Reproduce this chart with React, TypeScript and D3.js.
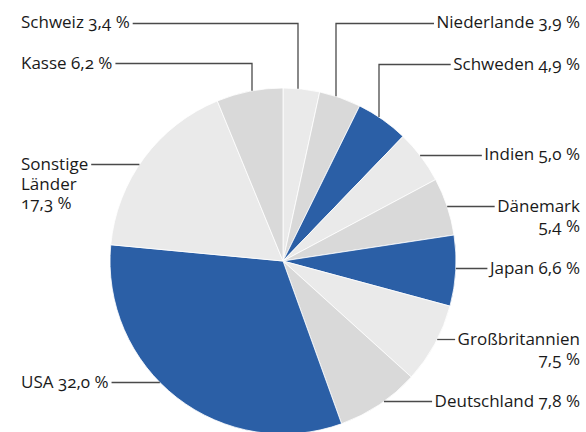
import React, { useEffect, useRef } from "react";
import * as d3 from "d3";

const countries = ["Schweiz", "Niederlande", "Schweden", "Indien", "Dänemark", "Japan", "Großbritannien", "Deutschland", "USA", "Sonstige Länder", "Kasse"];
const shares = [3.4, 3.9, 4.9, 5.0, 5.4, 6.6, 7.5, 7.8, 32.0, 17.3, 6.2];
const tones = ["light", "gray", "blue", "light", "gray", "blue", "light", "gray", "blue", "light", "gray"];
const labelLines = [
  ["Schweiz 3,4 %"],
  ["Niederlande 3,9 %"],
  ["Schweden 4,9 %"],
  ["Indien 5,0 %"],
  ["Dänemark", "5,4 %"],
  ["Japan 6,6 %"],
  ["Großbritannien", "7,5 %"],
  ["Deutschland 7,8 %"],
  ["USA 32,0 %"],
  ["Sonstige", "Länder", "17,3 %"],
  ["Kasse 6,2 %"],
];

const W = 586, H = 432;
const CX = 283, CY = 261, R = 173;
const LEFT_X = 21, RIGHT_X = 580, LH = 19.5;
const palette: Record<string, string> = { light: "#eaeaea", gray: "#d9d9d9", blue: "#2b5fa6" };

// layout: side, first baseline, leader y, optional elbow x
const layout = [
  { side: "L", base: 28, ly: 23.5, elbow: 298 },
  { side: "R", base: 28, ly: 23.5, elbow: 336 },
  { side: "R", base: 70, ly: 64.5, elbow: 379 },
  { side: "R", base: 160, ly: 155.5 },
  { side: "R", base: 212, ly: 206.5 },
  { side: "R", base: 274, ly: 268.5 },
  { side: "R", base: 345, ly: 339.5 },
  { side: "R", base: 407, ly: 401.5 },
  { side: "L", base: 388, ly: 382.5 },
  { side: "L", base: 170, ly: 164.5 },
  { side: "L", base: 69, ly: 63.5, elbow: 252 },
];

export default function App() {
  const ref = useRef<SVGSVGElement>(null);
  useEffect(() => {
    const svg = d3.select(ref.current);
    svg.selectAll("*").remove();
    const data = countries.map((c, i) => ({ c, v: shares[i], tone: tones[i], lines: labelLines[i], lay: layout[i] }));
    const pie = d3.pie<any>().value((d) => d.v).sort(null);
    const arc = d3.arc<any>().innerRadius(0).outerRadius(R);
    const g = svg.append("g").attr("transform", `translate(${CX},${CY})`);
    g.selectAll("path").data(pie(data)).join("path")
      .attr("d", arc as any)
      .attr("fill", (d: any) => palette[d.data.tone])
      .attr("stroke", "#ffffff")
      .attr("stroke-width", 0.8);

    const lab = svg.append("g")
      .attr("font-family", "'Open Sans', sans-serif")
      .attr("font-size", 17)
      .attr("fill", "#1a1a1a")
      .style("font-variant-numeric", "oldstyle-nums");

    data.forEach((d) => {
      const L = d.lay;
      const left = L.side === "L";
      let firstLen = 0;
      d.lines.forEach((s, j) => {
        const t = lab.append("text")
          .attr("text-anchor", left ? "start" : "end")
          .attr("x", left ? LEFT_X : RIGHT_X)
          .attr("y", L.base + j * LH)
          .text(s);
        if (j === 0) firstLen = (t.node() as SVGTextContentElement).getComputedTextLength();
      });
      const textEdge = left ? LEFT_X + firstLen + 3 : RIGHT_X - firstLen - 2.5;
      let pts: [number, number][];
      if (L.elbow !== undefined) {
        const dx = L.elbow - CX;
        const yEdge = CY - Math.sqrt(R * R - dx * dx);
        pts = [[textEdge, L.ly], [L.elbow, L.ly], [L.elbow, yEdge]];
      } else {
        const dy = L.ly - CY;
        const dxe = Math.sqrt(R * R - dy * dy);
        const xEdge = left ? CX - dxe : CX + dxe;
        pts = [[textEdge, L.ly], [xEdge, L.ly]];
      }
      svg.append("path")
        .attr("d", d3.line()(pts) as string)
        .attr("fill", "none")
        .attr("stroke", "#4a4a4a")
        .attr("stroke-width", 1.3);
    });
  }, []);
  return (
    <svg ref={ref} width={W} height={H} style={{ position: "absolute", left: 0, top: 0, display: "block" }} />
  );
}
